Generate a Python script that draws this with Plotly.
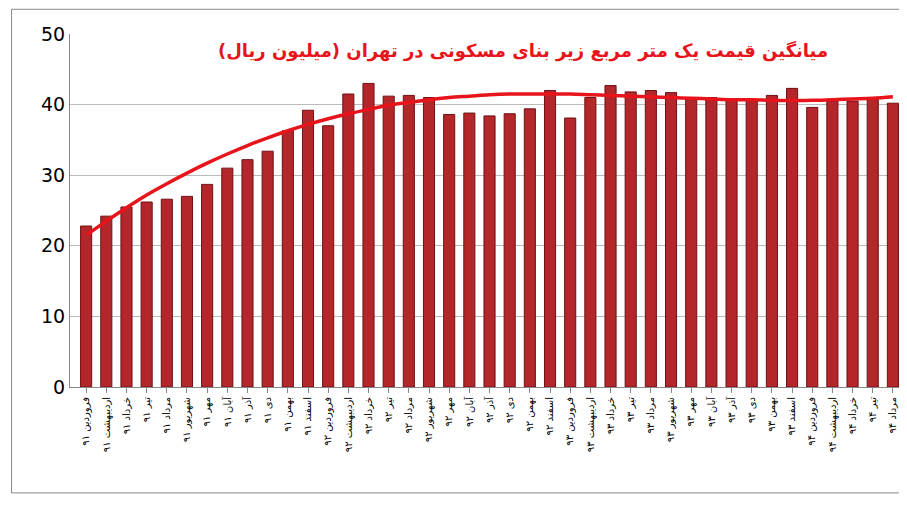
import plotly.graph_objects as go

months = ['فروردین', 'اردیبهشت', 'خرداد', 'تیر', 'مرداد', 'شهریور',
          'مهر', 'آبان', 'آذر', 'دی', 'بهمن', 'اسفند']
years = ['۹۱', '۹۲', '۹۳', '۹۴']

labels = []
for y in years:
    for m in months:
        labels.append(m + ' ' + y)
labels = labels[:41]

prices = [22.8, 24.2, 25.5, 26.2, 26.6, 27.0, 28.7, 31.0, 32.2, 33.4, 36.3, 39.2,
          37.0, 41.5, 43.0, 41.2, 41.3, 41.0, 38.6, 38.8, 38.4, 38.7, 39.4, 42.0,
          38.1, 41.0, 42.7, 41.8, 42.0, 41.7, 41.0, 41.0, 40.7, 40.7, 41.3, 42.3,
          39.6, 40.5, 40.5, 41.0, 40.2]

trend = [21.5, 23.5, 25.4, 27.2, 28.8, 30.3, 31.7, 33.0, 34.2, 35.3, 36.3, 37.2,
         38.0, 38.7, 39.3, 39.9, 40.3, 40.7, 41.0, 41.2, 41.4, 41.5, 41.5, 41.5,
         41.5, 41.4, 41.3, 41.2, 41.1, 41.0, 40.9, 40.8, 40.7, 40.7, 40.6, 40.6,
         40.6, 40.7, 40.8, 40.9, 41.1]

title = 'میانگین قیمت یک متر مربع زیر بنای مسکونی در تهران (میلیون ریال)'

fig = go.Figure()
fig.add_trace(go.Bar(
    x=labels, y=prices,
    marker=dict(color='#B3262A', line=dict(color='#6E1014', width=1)),
    width=0.55,
))
fig.add_trace(go.Scatter(
    x=labels, y=trend, mode='lines',
    line=dict(color='#E8141B', width=3.5, shape='spline'),
))

fig.update_layout(
    width=907, height=505,
    margin=dict(l=62, r=10, t=26, b=126),
    paper_bgcolor='white', plot_bgcolor='white',
    showlegend=False,
    font=dict(family='DejaVu Sans', color='black'),
    annotations=[dict(
        text='<b>' + title + '</b>', xref='paper', yref='paper',
        x=0.91, y=0.99, xanchor='right', yanchor='top', showarrow=False,
        font=dict(size=18, color='#E8141B', family='DejaVu Sans'),
    )],
    shapes=[dict(type='rect', xref='paper', yref='paper',
                 x0=-0.07, x1=1.008, y0=-0.30, y1=1.07,
                 line=dict(color='#888888', width=1))],
)
fig.update_xaxes(range=[-0.8, 40.6])
fig.update_yaxes(range=[0, 50], dtick=10, showgrid=True, gridcolor='#BBBBBB',
                 tickfont=dict(size=19), zeroline=False,
                 showline=True, linecolor='#888888')
fig.update_xaxes(tickangle=-90, tickfont=dict(size=10), showline=True,
                 linecolor='#888888', ticks='outside', ticklen=5,
                 tickcolor='#888888')

fig.write_html('out.html')
